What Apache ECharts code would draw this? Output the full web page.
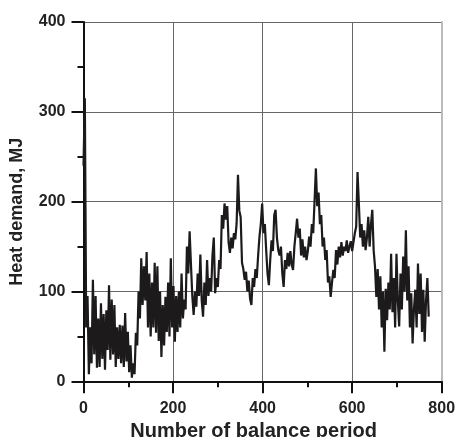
<!DOCTYPE html>
<html>
<head>
<meta charset="utf-8">
<script src="https://cdn.jsdelivr.net/npm/echarts@6/dist/echarts.min.js"></script>
<style>
  html, body { margin: 0; padding: 0; background: #fff; }
  #chart { width: 456px; height: 437px; }
</style>
</head>
<body>
<div id="chart"></div>
<script>
// 数据：每个平衡周期的热需求 (MJ)，周期间隔为 3
const periodStep = 3;
const heatDemand = [
    240, 315, 60, 95, 8, 60, 20, 113, 30, 95,
    15, 70, 16, 87, 25, 75, 13, 79, 35, 107,
    24, 91, 30, 85, 16, 60, 25, 63, 20, 62,
    16, 76, 22, 55, 10, 40, 4, 20, 8, 54,
    40, 100, 70, 137, 85, 128, 90, 144, 60, 120,
    50, 110, 60, 132, 54, 128, 45, 100, 27, 85,
    40, 94, 55, 110, 50, 137, 60, 106, 44, 95,
    55, 100, 60, 120, 70, 91, 80, 150, 120, 167,
    130, 95, 74, 100, 83, 120, 95, 141, 90, 72,
    110, 85, 135, 95, 115, 100, 140, 160, 98, 115,
    105, 135, 125, 185, 170, 198, 180, 195, 155, 143,
    160, 148, 165, 158, 176, 230, 190, 183, 132, 125,
    113, 122, 100, 112, 92, 85, 115, 105, 125, 115,
    140, 161, 175, 198, 165, 175, 146, 120, 107, 135,
    157, 145, 185, 191, 160, 146, 140, 150, 120, 105,
    135, 125, 143, 128, 145, 130, 124, 150, 165, 181,
    160, 170, 140, 158, 138, 150, 135, 145, 161, 150,
    175, 165, 200, 237, 195, 210, 175, 185, 150, 160,
    135, 146, 110, 117, 94, 110, 124, 115, 146, 130,
    150, 138, 155, 140, 150, 145, 157, 143, 150, 156,
    145, 155, 165, 172, 233, 198, 160, 175, 150, 168,
    146, 160, 183, 150, 175, 191, 146, 128, 94, 125,
    80, 117, 60, 100, 33, 103, 68, 110, 80, 142,
    77, 115, 60, 142, 90, 61, 120, 80, 139, 100,
    168, 90, 128, 60, 98, 42, 80, 102, 60, 131,
    75, 120, 55, 102, 44, 90, 115, 72
];

// 坐标轴刻度
const xTicks = [0, 200, 400, 600, 800];
const yTicks = [0, 100, 200, 300, 400];

const FONT = 'Liberation Sans, Arial, sans-serif';

function initChart() {
    const chart = echarts.init(document.getElementById('chart'));

    const seriesData = heatDemand.map((v, i) => [i * periodStep, v]);

    const option = {
        animation: false,
        backgroundColor: '#fff',
        grid: {
            left: 83.5,
            right: 14.3,
            top: 22,
            bottom: 55.7,
            outerBoundsMode: 'none'
        },
        xAxis: {
            type: 'value',
            min: xTicks[0],
            max: xTicks[xTicks.length - 1],
            interval: xTicks[1] - xTicks[0],
            name: 'Number of balance period',
            nameLocation: 'middle',
            nameGap: 29,
            nameTextStyle: {
                fontFamily: FONT,
                fontWeight: 'bold',
                fontSize: 20,
                color: '#222',
                padding: [0, 18, 0, 0]
            },
            axisLine: { onZero: false, lineStyle: { color: '#111', width: 2 } },
            axisTick: { length: 12, lineStyle: { color: '#111', width: 2 } },
            minorTick: { show: true, splitNumber: 2, length: 6, lineStyle: { color: '#111', width: 2 } },
            axisLabel: {
                fontFamily: FONT,
                fontWeight: 'bold',
                fontSize: 16,
                color: '#222',
                margin: 19
            },
            splitLine: { show: true, lineStyle: { color: '#666', width: 1 } }
        },
        yAxis: [
            {
                type: 'value',
                min: yTicks[0],
                max: yTicks[yTicks.length - 1],
                interval: yTicks[1] - yTicks[0],
                name: 'Heat demand, MJ',
                nameLocation: 'middle',
                nameGap: 57,
                nameTextStyle: {
                    fontFamily: FONT,
                    fontWeight: 'bold',
                    fontSize: 18,
                    color: '#222',
                    padding: [0, 20, 0, 0]
                },
                axisLine: { show: true, lineStyle: { color: '#111', width: 2 } },
                axisTick: { length: 12, lineStyle: { color: '#111', width: 2 } },
                minorTick: { show: true, splitNumber: 2, length: 6, lineStyle: { color: '#111', width: 2 } },
                axisLabel: {
                    fontFamily: FONT,
                    fontWeight: 'bold',
                    fontSize: 16,
                    color: '#222',
                    margin: 18
                },
                splitLine: { show: true, lineStyle: { color: '#666', width: 1 } }
            },
            {
                // 右侧浅灰边框
                type: 'value',
                position: 'right',
                min: yTicks[0],
                max: yTicks[yTicks.length - 1],
                interval: yTicks[1] - yTicks[0],
                axisLine: { show: true, lineStyle: { color: '#bbb', width: 2 } },
                axisTick: { show: false },
                axisLabel: { show: false },
                splitLine: { show: false }
            }
        ],
        series: [
            {
                name: 'Heat demand',
                type: 'line',
                data: seriesData,
                showSymbol: false,
                smooth: false,
                lineStyle: { color: '#1c1a1b', width: 2.2 },
                z: 3
            }
        ]
    };

    chart.setOption(option);
}

window.addEventListener('DOMContentLoaded', initChart);
</script>
</body>
</html>
